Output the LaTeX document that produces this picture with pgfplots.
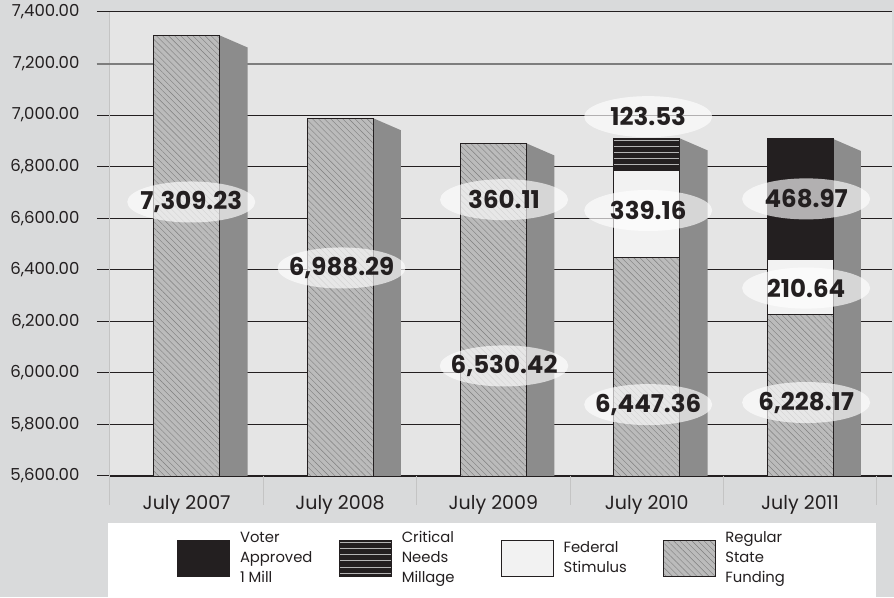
\documentclass[border=0pt]{standalone}
\usepackage{fontspec}
\setmainfont{Poppins}
\usepackage{pgfplots}
\pgfplotsset{compat=1.18}
\usepackage{pgfplotstable}
\usetikzlibrary{patterns.meta,shapes.geometric}

\definecolor{outerbg}{HTML}{D9DADB}
\definecolor{plotbg}{HTML}{E5E5E5}
\definecolor{hatchfill}{HTML}{BBBBBB}
\definecolor{hatchline}{HTML}{7E7E7E}
\definecolor{sidegray}{HTML}{8C8C8C}
\definecolor{fedfill}{HTML}{F2F2F2}
\definecolor{voterfill}{HTML}{231F20}
\definecolor{stripe}{HTML}{B4B4B4}
\definecolor{sepgray}{HTML}{C4C4C4}
\definecolor{midgray}{HTML}{7D7D7D}
\definecolor{ink}{HTML}{231F20}

% segments of each bar (x = category index)
\pgfplotstableread{
x reg     extra  fed    crit   vot
0 7309.23 0      0      0      0
1 6988.29 0      0      0      0
2 6530.42 360.11 0      0      0
3 6447.36 0      339.16 123.53 0
4 6228.17 0      210.64 0      468.97
}\segments

% data labels and where they sit
\pgfplotstableread{
x    ly   lab
0.03 6663 7,309.23
1.01 6407 6,988.29
2.07 6027 6,530.42
2.07 6672 360.11
3.01 5877 6,447.36
3.01 6630 339.16
3.01 6994 123.53
4.04 5885 6,228.17
4.04 6329 210.64
4.04 6675 468.97
}\labels

\begin{document}
\begin{tikzpicture}[x=1pt,y=1pt]
\useasboundingbox (0,0) rectangle (894,597);
\fill[outerbg] (0,0) rectangle (894,597);
\fill[white] (108,0) rectangle (876,74);
\begin{axis}[
    at={(110pt,121pt)}, anchor=south west,
    scale only axis, width=782pt, height=464pt,
    xmin=-0.5, xmax=4.6, ymin=5600, ymax=7400,
    clip mode=individual,
    axis background/.style={fill=plotbg},
    axis x line*=bottom, axis y line*=left,
    axis line style={-},
    x axis line style={ink, line width=1.3pt},
    y axis line style={sepgray, line width=1pt},
    tick align=outside,
    major tick length=13pt,
    ytick style={ink, line width=1pt},
    xtick style={draw=none},
    ytick={5600,5800,...,7400},
    scaled y ticks=false,
    y tick label style={/pgf/number format/.cd, fixed, fixed zerofill,
        precision=2, 1000 sep={,}, assume math mode=true,
        /tikz/.cd, font=\fontsize{16.5}{19}\selectfont, text=ink, xshift=-14pt},
    xtick={0,...,4},
    xticklabels={July 2007,July 2008,July 2009,July 2010,July 2011},
    x tick label style={font=\fontsize{19}{22}\selectfont, text=ink, yshift=-3pt},
    ymajorgrids, major grid style={ink, line width=1pt},
    bar width=0.43,
    legend columns=4, legend cell align=left,
    legend image code/.code={\draw[#1] (0pt,-18pt) rectangle (52pt,18pt);},
    legend style={draw=none, fill=none, inner sep=0pt,
        at={(axis description cs:0.0857,-0.1778)}, anchor=west,
        font=\fontsize{14.8}{20}\selectfont, text=ink,
        nodes={inner sep=0pt, text depth={}},
        /tikz/every odd column/.append style={column sep=10pt}},
]
% the 7,200 rule is drawn lighter and heavier than the others
\addplot[forget plot, midgray, line width=2pt, clip=false]
    coordinates {(-0.585,7200) (4.6,7200)};

% category separators below the axis
\addplot[forget plot, sepgray, line width=1pt, clip=false, unbounded coords=jump]
    coordinates {(-0.5,5600) (-0.5,5487) (-0.5,nan) (0.5,5600) (0.5,5487) (0.5,nan)
                 (1.5,5600) (1.5,5487) (1.5,nan) (2.5,5600) (2.5,5487) (2.5,nan)
                 (3.5,5600) (3.5,5487) (3.5,nan) (4.5,5600) (4.5,5487)};

% right-hand faces of the bars
\addplot[forget plot, fill=sidegray, draw=none] coordinates {(0.215,5600) (0.215,7309.23) (0.3975,7262.23) (0.3975,5600)};
\addplot[forget plot, fill=sidegray, draw=none] coordinates {(1.215,5600) (1.215,6988.29) (1.3975,6941.29) (1.3975,5600)};
\addplot[forget plot, fill=sidegray, draw=none] coordinates {(2.215,5600) (2.215,6890.53) (2.3975,6843.53) (2.3975,5600)};
\addplot[forget plot, fill=sidegray, draw=none] coordinates {(3.215,5600) (3.215,6910.05) (3.3975,6863.05) (3.3975,5600)};
\addplot[forget plot, fill=sidegray, draw=none] coordinates {(4.215,5600) (4.215,6907.78) (4.3975,6860.78) (4.3975,5600)};

% front faces, tallest cumulative first
\addplot[ybar, draw=ink, line width=0.8pt, fill=voterfill, restrict x to domain=4:4]
    table[x=x, y expr=\thisrow{reg}+\thisrow{extra}+\thisrow{fed}+\thisrow{crit}+\thisrow{vot}] {\segments};
\addlegendentry{\begin{tabular}{@{}p{99pt}@{}}Voter\\Approved\\1 Mill\end{tabular}}
\addplot[ybar, draw=ink, line width=0.8pt, fill=voterfill,
    postaction={pattern={Lines[angle=0,distance=6pt,line width=1pt]}, pattern color=stripe},
    restrict x to domain=3:3]
    table[x=x, y expr=\thisrow{reg}+\thisrow{extra}+\thisrow{fed}+\thisrow{crit}] {\segments};
\addlegendentry{\begin{tabular}{@{}p{99pt}@{}}Critical\\Needs\\Millage\end{tabular}}
\addplot[ybar, draw=ink, line width=0.8pt, fill=fedfill, restrict x to domain=3:4]
    table[x=x, y expr=\thisrow{reg}+\thisrow{extra}+\thisrow{fed}] {\segments};
\addlegendentry{\begin{tabular}{@{}p{99pt}@{}}Federal\\Stimulus\end{tabular}}
\addplot[ybar, draw=ink, line width=0.8pt, fill=hatchfill,
    postaction={pattern={Lines[angle=-45,distance=4.3pt,line width=0.4pt]}, pattern color=hatchline}]
    table[x=x, y expr=\thisrow{reg}+\thisrow{extra}] {\segments};
\addlegendentry{\begin{tabular}{@{}p{99pt}@{}}Regular\\State\\Funding\end{tabular}}

% value labels in pale ellipses
\addplot[forget plot, draw=none, mark=none, nodes near coords, nodes near coords align=center,
    point meta=explicit symbolic,
    every node near coord/.append style={ellipse, fill=white, fill opacity=0.65, text opacity=1,
        minimum width=128pt, minimum height=41pt, inner xsep=-8pt, inner ysep=3pt, text=ink,
        font=\fontsize{24.5}{27}\selectfont\bfseries}]
    table[x=x, y=ly, meta=lab] {\labels};
\end{axis}
\end{tikzpicture}
\end{document}
